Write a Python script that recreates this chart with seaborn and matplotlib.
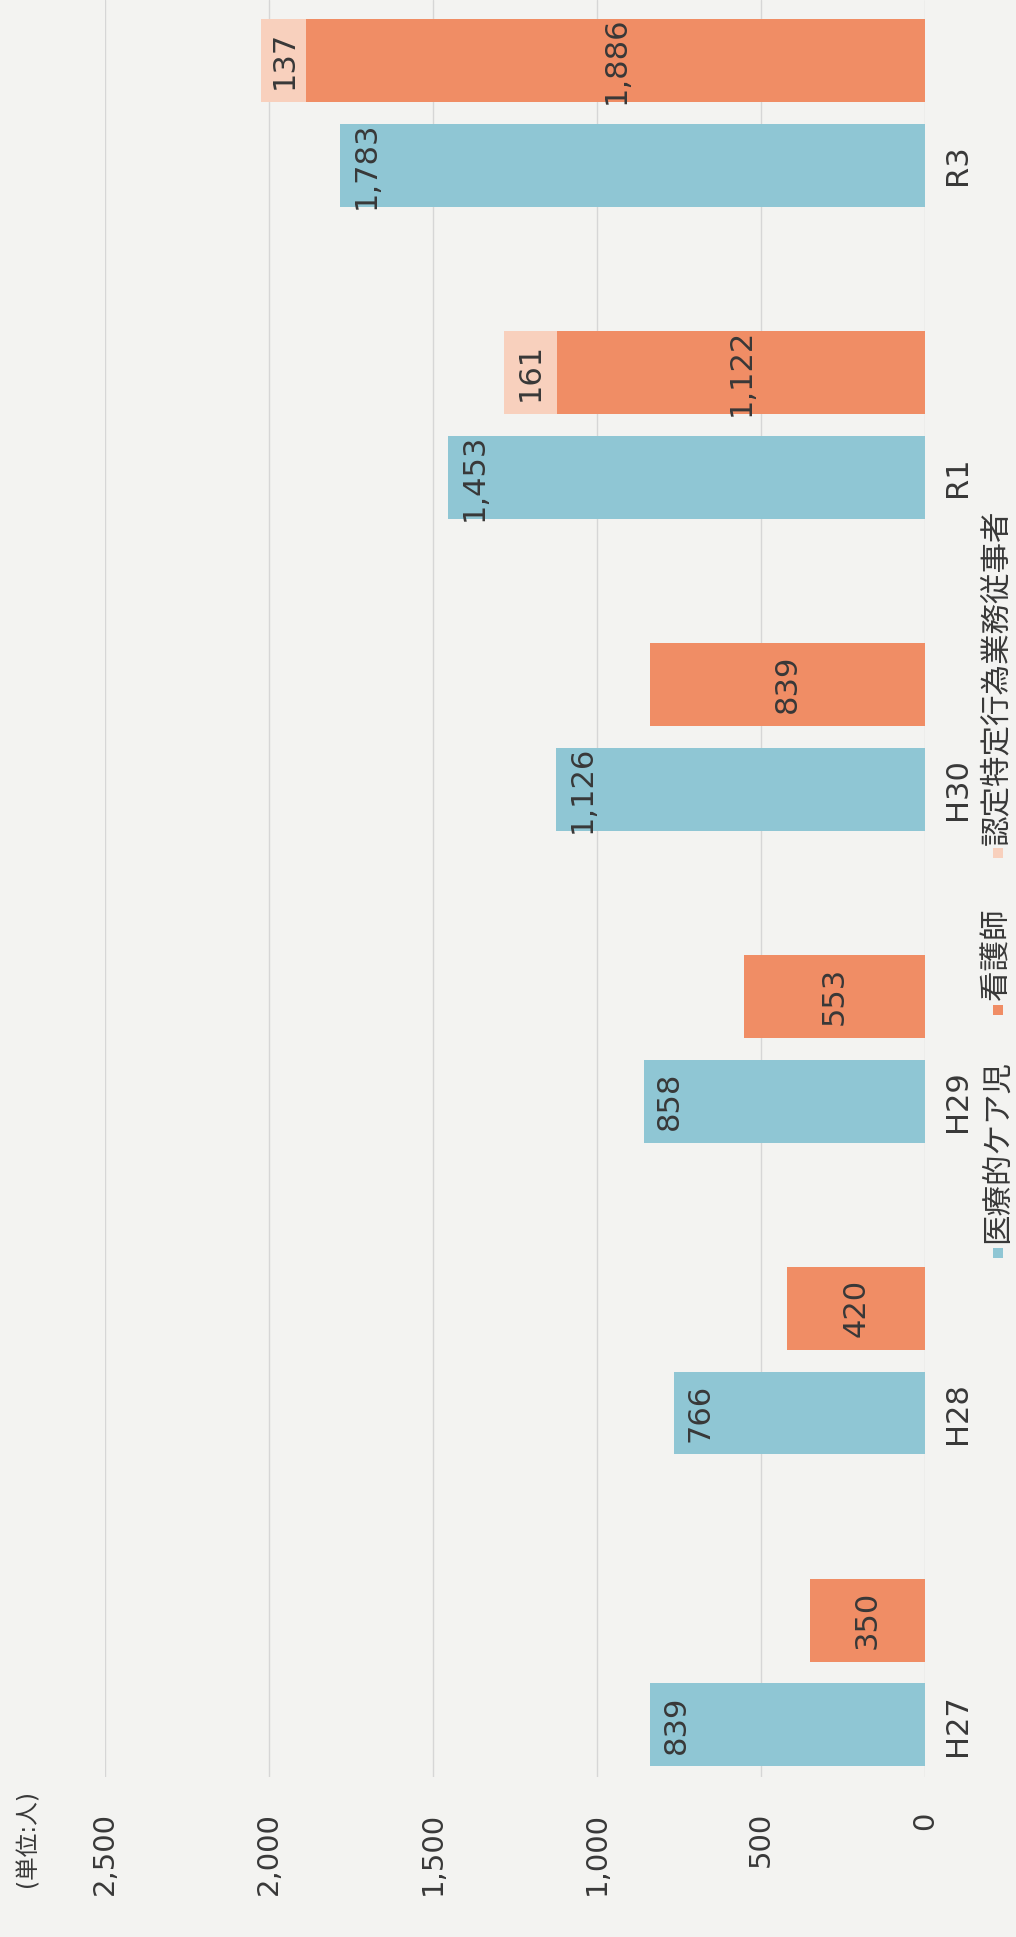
import matplotlib
matplotlib.use("Agg")
import matplotlib.pyplot as plt
from matplotlib.patches import Rectangle
import numpy as np
import seaborn as sns

years = ["H27", "H28", "H29", "H30", "R1", "R3"]
care_children = [839, 766, 858, 1126, 1453, 1783]   # 医療的ケア児
nurses = [350, 420, 553, 839, 1122, 1886]           # 看護師
certified = [0, 0, 0, 0, 161, 137]                  # 認定特定行為業務従事者
legend_labels = ["医療的ケア児", "看護師", "認定特定行為業務従事者"]
value_ticks = [0, 500, 1000, 1500, 2000, 2500]

BLUE = "#8fc6d4"
ORANGE = "#f08d65"
PINK = "#f8d0bd"
BG = "#f3f3f1"
TXT = "#383838"

sns.set_theme(style="white")
plt.rcParams["font.family"] = ["DejaVu Sans", "Noto Sans CJK JP"]

W, H = 1016, 1937
fx = lambda px: px / W
fy = lambda px: 1 - px / H

fig = plt.figure(figsize=(W / 100, H / 100), dpi=100, facecolor=BG)
ax = fig.add_axes([fx(105), fy(1777), fx(925) - fx(105), fy(0) - fy(1777)])
ax.set_facecolor(BG)

pos = np.arange(len(years))
nurse_pos = pos + 0.336
totals = [n + c for n, c in zip(nurses, certified)]
bw = 0.266

sns.barplot(x=care_children, y=pos, orient="y", native_scale=True, width=bw,
            color=BLUE, saturation=1, errorbar=None, linewidth=0, ax=ax)
sns.barplot(x=totals, y=nurse_pos, orient="y", native_scale=True, width=bw,
            color=PINK, saturation=1, errorbar=None, linewidth=0, ax=ax)
sns.barplot(x=nurses, y=nurse_pos, orient="y", native_scale=True, width=bw,
            color=ORANGE, saturation=1, errorbar=None, linewidth=0, ax=ax)

ax.set_xlim(2500, 0)
ax.set_ylim(-0.1667, 5.529)
ax.set_xlabel("")
ax.set_ylabel("")

# value axis (rotated page: runs right to left)
ax.set_xticks(value_ticks)
ax.set_xticklabels([f"{v:,}" for v in value_ticks], rotation=90, va="top", ha="center")
ax.tick_params(axis="x", length=0, pad=25, labelsize=21, labelcolor=TXT)
ax.xaxis.grid(True, color="#d6d6d6", lw=1)
ax.yaxis.grid(False)
ax.set_axisbelow(True)

# categories on the right
ax.set_yticks(pos)
ax.set_yticklabels(years, rotation=90, va="center", ha="left")
ax.yaxis.tick_right()
ax.tick_params(axis="y", length=0, pad=13, labelsize=22, labelcolor=TXT)
for s in ax.spines.values():
    s.set_visible(False)

# bar labels
for p, v in zip(pos, care_children):
    ax.text(v - 80, p, f"{v:,}", rotation=90, ha="center", va="center",
            fontsize=22, color=TXT)
for p, n, c in zip(nurse_pos, nurses, certified):
    ax.text(n / 2, p, f"{n:,}", rotation=90, ha="center", va="center",
            fontsize=22, color=TXT)
    if c > 0:
        ax.text(n + c / 2, p, f"{c:,}", rotation=90, ha="center", va="center",
                fontsize=22, color=TXT)

# unit label
fig.text(fx(27), fy(1790), "(単位:人)", rotation=90, ha="center", va="top",
         fontsize=17, color=TXT)

# legend, rotated like the rest of the page
legend_marks = [(1253, 1243, BLUE), (1010, 1000, ORANGE), (853, 845, PINK)]
for lab, (my, ty, col) in zip(legend_labels, legend_marks):
    fig.patches.append(Rectangle((fx(993), fy(my + 5)), 10 / W, 10 / H,
                                 transform=fig.transFigure, color=col, lw=0))
    fig.text(fx(997), fy(ty), lab, rotation=90, ha="center", va="bottom",
             fontsize=22, color=TXT)

fig.savefig("out.png", dpi=100, facecolor=BG)
